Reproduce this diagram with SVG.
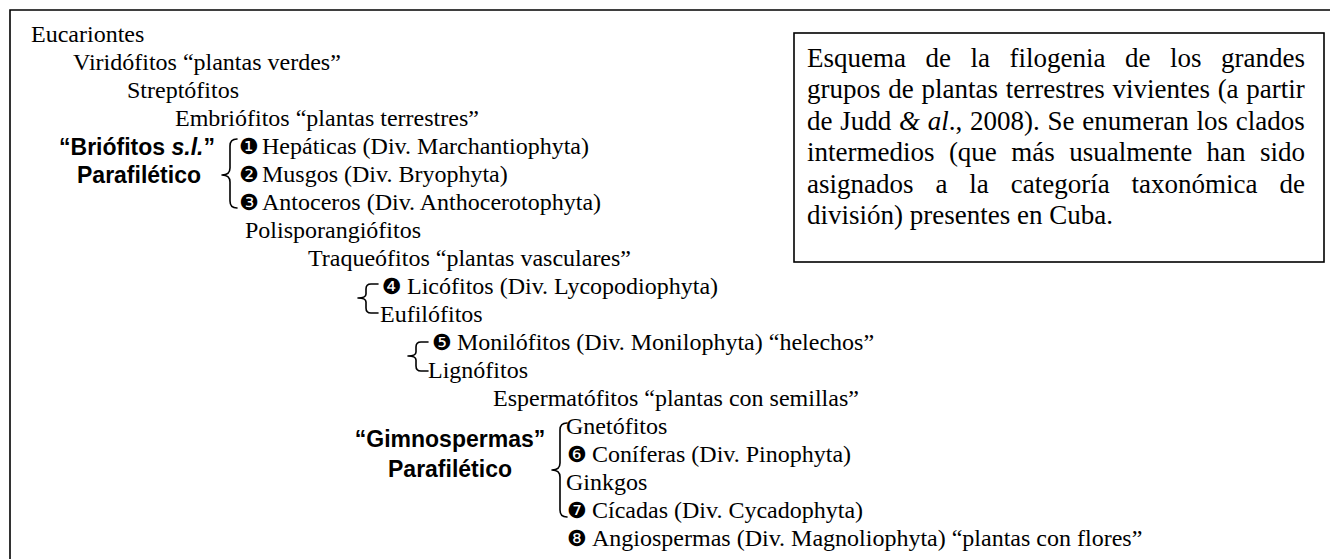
<svg xmlns="http://www.w3.org/2000/svg" width="1330" height="559" viewBox="0 0 1330 559">
<style>
  .t { font-family: "Liberation Serif", "Times New Roman", serif; font-size: 24px; fill: #000; }
  .b { font-family: "Liberation Sans", Arial, sans-serif; font-size: 23px; font-weight: bold; fill: #000; text-anchor: middle; }
  .n { font-family: "DejaVu Sans", sans-serif; font-size: 22px; }
  .box { font-family: "Liberation Serif", "Times New Roman", serif; font-size: 27px; fill: #000; }
  .brace { fill: none; stroke: #000; stroke-width: 1.6; stroke-linejoin: round; stroke-linecap: round; }
  .frame { fill: none; stroke: #000; stroke-width: 1.6; }
</style>
<rect x="0" y="0" width="1330" height="559" fill="#fff"/>
<path class="frame" d="M10,559 V10 H1330"/>

<g id="caption">
  <rect class="frame" x="794" y="33" width="530" height="229"/>
  <text class="box" x="807" y="67" word-spacing="12.77">Esquema de la filogenia de los grandes</text>
  <text class="box" x="807" y="98.4" word-spacing="1.0">grupos de plantas terrestres vivientes (a partir</text>
  <text class="box" x="807" y="129.8" word-spacing="1.0">de Judd <tspan font-style="italic">&amp; al</tspan>., 2008). Se enumeran los clados</text>
  <text class="box" x="807" y="161.2" word-spacing="7.66">intermedios (que más usualmente han sido</text>
  <text class="box" x="807" y="192.6" word-spacing="15.18">asignados a la categoría taxonómica de</text>
  <text class="box" x="807" y="224">división) presentes en Cuba.</text>
</g>

<g id="n-eucariontes"><text class="t" x="31" y="42">Eucariontes</text></g>
<g id="n-viridofitos"><text class="t" x="73" y="70">Viridófitos “plantas verdes”</text></g>
<g id="n-streptofitos"><text class="t" x="127" y="98">Streptófitos</text></g>
<g id="n-embriofitos"><text class="t" x="175" y="126">Embriófitos “plantas terrestres”</text></g>
<g id="n-hepaticas"><text class="t" x="239" y="154"><tspan class="n">❶</tspan><tspan x="262">Hepáticas (Div. Marchantiophyta)</tspan></text></g>
<g id="n-musgos"><text class="t" x="239" y="182"><tspan class="n">❷</tspan><tspan x="262">Musgos (Div. Bryophyta)</tspan></text></g>
<g id="n-antoceros"><text class="t" x="239" y="210"><tspan class="n">❸</tspan><tspan x="262">Antoceros (Div. Anthocerotophyta)</tspan></text></g>
<g id="n-polisporangiofitos"><text class="t" x="245" y="238">Polisporangiófitos</text></g>
<g id="n-traqueofitos"><text class="t" x="308" y="266">Traqueófitos “plantas vasculares”</text></g>
<g id="n-licofitos"><text class="t" x="382" y="294"><tspan class="n">❹</tspan><tspan x="407">Licófitos (Div. Lycopodiophyta)</tspan></text></g>
<g id="n-eufilofitos"><text class="t" x="380" y="322">Eufilófitos</text></g>
<g id="n-monilofitos"><text class="t" x="432" y="350"><tspan class="n">❺</tspan><tspan x="457">Monilófitos (Div. Monilophyta) “helechos”</tspan></text></g>
<g id="n-lignofitos"><text class="t" x="428" y="378">Lignófitos</text></g>
<g id="n-espermatofitos"><text class="t" x="493" y="406">Espermatófitos “plantas con semillas”</text></g>
<g id="n-gnetofitos"><text class="t" x="566" y="434">Gnetófitos</text></g>
<g id="n-coniferas"><text class="t" x="567" y="462"><tspan class="n">❻</tspan><tspan x="592">Coníferas (Div. Pinophyta)</tspan></text></g>
<g id="n-ginkgos"><text class="t" x="566" y="490">Ginkgos</text></g>
<g id="n-cicadas"><text class="t" x="567" y="518"><tspan class="n">❼</tspan><tspan x="592">Cícadas (Div. Cycadophyta)</tspan></text></g>
<g id="n-angiospermas"><text class="t" x="567" y="546"><tspan class="n">❽</tspan><tspan x="592">Angiospermas (Div. Magnoliophyta) “plantas con flores”</tspan></text></g>

<g id="g-briofitos">
  <text class="b" x="137" y="155">“Briófitos <tspan font-style="italic">s.l.</tspan>”</text>
  <text class="b" x="139" y="183">Parafilético</text>
</g>
<g id="g-gimnospermas">
  <text class="b" x="450" y="447">“Gimnospermas”</text>
  <text class="b" x="450" y="477">Parafilético</text>
</g>

<g id="connectors">
  <path class="brace" d="M237,139 Q230,139 230,146 L230,168 Q230,175 222,175 Q230,175 230,182 L230,201 Q230,208 237,208"/>
  <path class="brace" d="M378,284 L371,284 Q366,284 366,289 L366,294 Q366,298 358,298 Q366,298 366,302 L366,308 Q366,313 371,313 L378,313"/>
  <path class="brace" d="M428,342 L421,342 Q416,342 416,347 L416,352 Q416,356 408,356 Q416,356 416,360 L416,366 Q416,371 421,371 L428,371"/>
  <path class="brace" d="M567,423 Q560,423 560,430 L560,463 Q560,470 552,470 Q560,470 560,477 L560,510 Q560,517 567,517"/>
</g>
</svg>
